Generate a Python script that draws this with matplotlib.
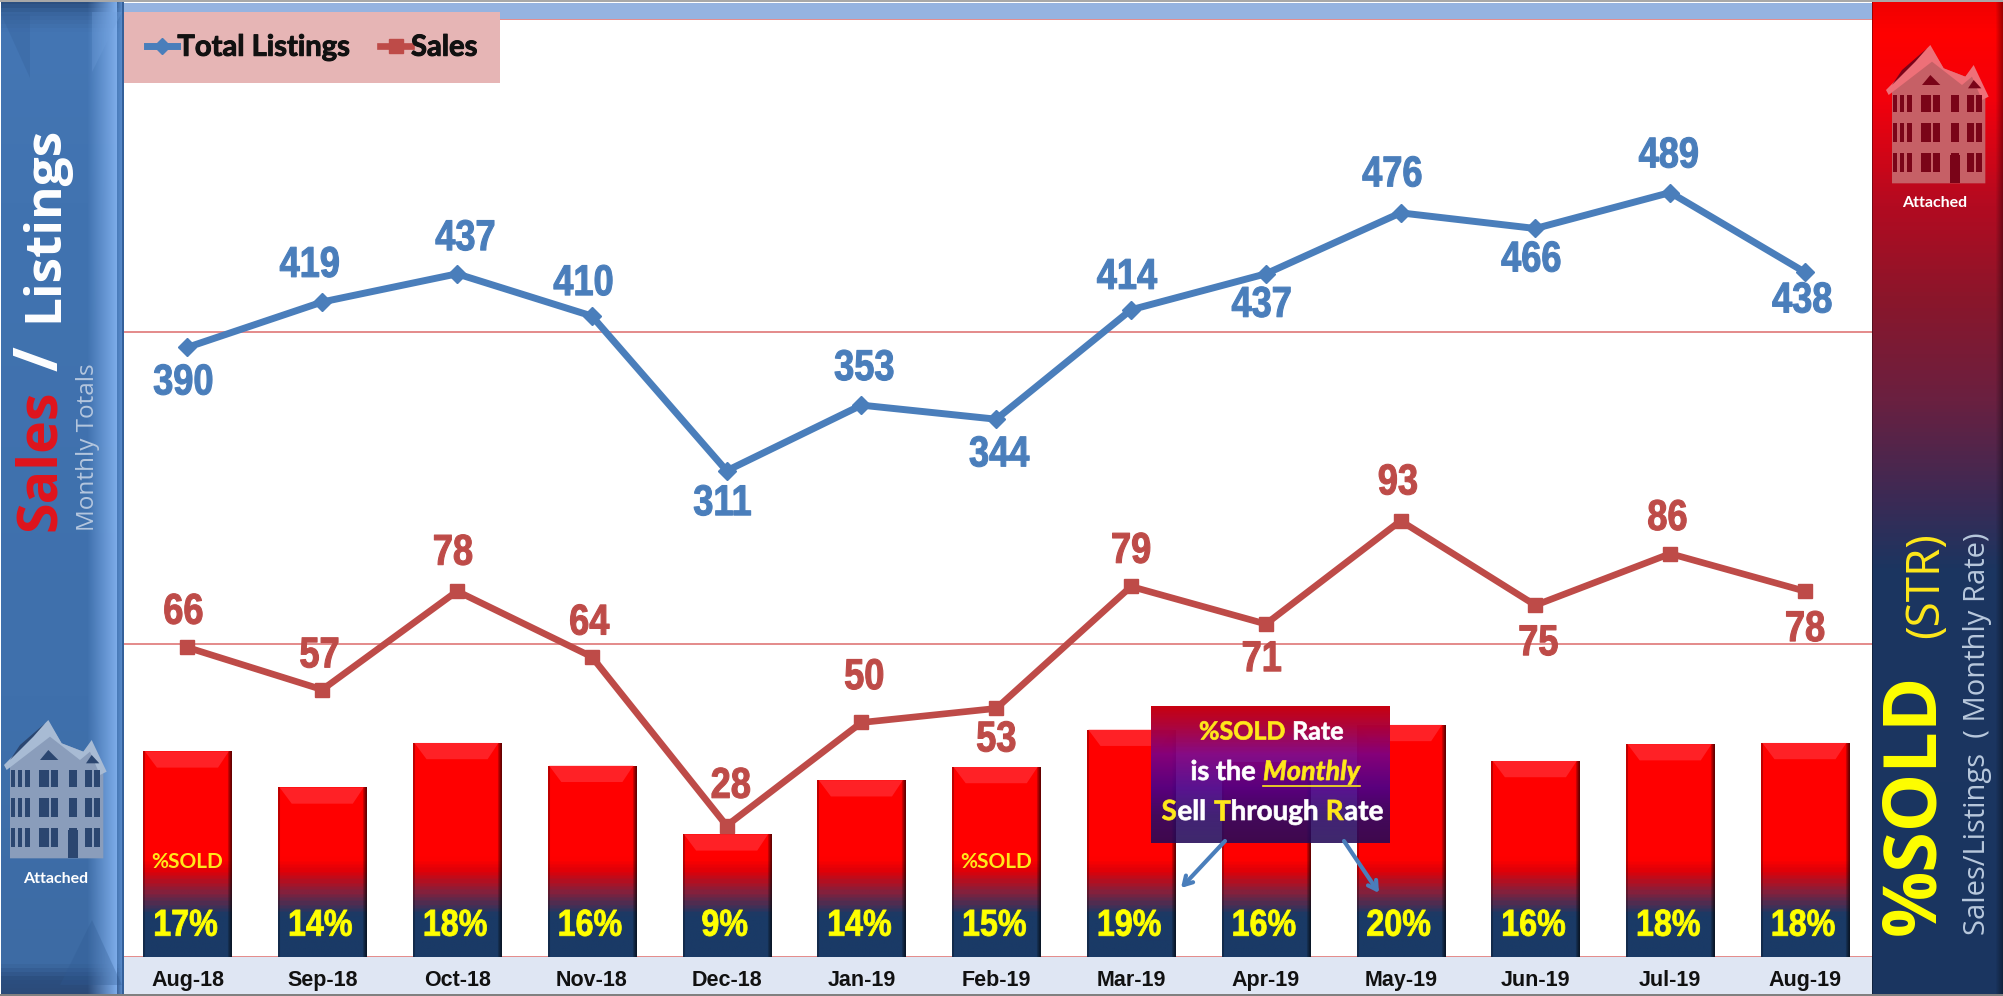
#!/usr/bin/env python3
"""Attached homes: monthly listings, sales and %SOLD rate, Aug-18 to Aug-19."""
import matplotlib

matplotlib.use("Agg")
import matplotlib.pyplot as plt
import matplotlib.patheffects as pe
import numpy as np
from matplotlib.colors import LinearSegmentedColormap, to_rgb
from matplotlib.patches import Polygon, Rectangle
from matplotlib.transforms import Affine2D

months = ["Aug-18", "Sep-18", "Oct-18", "Nov-18", "Dec-18", "Jan-19", "Feb-19",
          "Mar-19", "Apr-19", "May-19", "Jun-19", "Jul-19", "Aug-19"]
listings = [390, 419, 437, 410, 311, 353, 344, 414, 437, 476, 466, 489, 438]
sales = [66, 57, 78, 64, 28, 50, 53, 79, 71, 93, 75, 86, 78]
sold_rate = [17.1, 14.1, 17.8, 15.9, 10.2, 14.7, 15.8, 18.9, 16.2, 19.3, 16.3, 17.7, 17.8]
sold_labels = ["17%", "14%", "18%", "16%", "9%", "14%", "15%",
               "19%", "16%", "20%", "16%", "18%", "18%"]

# label placement in points, relative to the data point
listing_dx = [-3, -9, 6, -6, -3, 2, 2, -3, -3, -6, -3, -1, -2]
listing_dy = [-26, 26, 25, 23, -24, 26, -26, 23, -23, 27, -23, 26, -21]
sales_dx = [-3, -2, -3, -2, 3, 2, 0, 0, -3, -2, 2, -2, 0]
sales_dy = [25, 24, 27, 24, 28, 32, -23, 25, -26, 27, -28, 25, -28]

W, H = 2003, 996
BLUE, RED = "#4a7ebb", "#be4b48"
NAVY = "#1a3a66"
GRID = "#e48a8a"
HUMAN = ["Lato", "Open Sans"]
SIDE = ["Open Sans", "Lato"]

plt.rcParams["font.family"] = ["Liberation Sans", "DejaVu Sans"]


class Condense(pe.AbstractPathEffect):
    """Squeeze glyphs sideways; there is no narrow Arial to name here."""

    def __init__(self, sx, weight=0.0):
        super().__init__()
        self.sx = sx
        self.weight = weight

    def draw_path(self, renderer, gc, tpath, affine, rgbFace=None):
        ext = tpath.get_extents()
        cx = (ext.x0 + ext.x1) / 2
        squeeze = Affine2D().translate(-cx, 0).scale(self.sx, 1).translate(cx, 0)
        gc0 = renderer.new_gc()
        gc0.copy_properties(gc)
        gc0.set_linewidth(self.weight)
        gc0.set_foreground(rgbFace)
        renderer.draw_path(gc0, tpath, squeeze + affine, rgbFace)
        gc0.restore()


def ramp(stops):
    return LinearSegmentedColormap.from_list("r", [(p, to_rgb(c)) for p, c in stops])


def panel_image(ax, x0, x1, y0, y1, stops, edge):
    """Vertical colour ramp for a side panel, edge = [(x frac, colour, alpha), ...]."""
    n = int(y1 - y0)
    img = ramp(stops)(np.linspace(0, 1, n))[:, :3]
    img = np.repeat(img[:, None, :], int(x1 - x0), axis=1)
    for a, b, col, alpha0, alpha1 in edge:
        i0, i1 = int(a * img.shape[1]), int(b * img.shape[1])
        al = np.linspace(alpha0, alpha1, i1 - i0)[None, :, None]
        img[:, i0:i1] = img[:, i0:i1] * (1 - al) + np.array(to_rgb(col)) * al
    ax.imshow(img, extent=(x0, x1, y1, y0), aspect="auto", interpolation="bilinear", zorder=1)


def building(ax, ox, oy, body, dark, light):
    """Small attached-homes icon; coordinates are sketched on a 3x grid."""
    def p(x, y):
        return ox + x / 3, oy + y / 3

    ax.add_patch(Polygon([p(*q) for q in [(30, 255), (145, 125), (185, 190), (250, 215),
                                          (275, 185), (310, 275), (310, 535), (30, 535)]],
                         fc=body, ec="none", zorder=3))
    ax.add_patch(Polygon([p(*q) for q in [(12, 255), (145, 120), (185, 190), (250, 215),
                                          (275, 180), (320, 275), (300, 285), (270, 215),
                                          (240, 240), (150, 170), (20, 270)]],
                         fc=light, ec="none", zorder=4))
    ax.add_patch(Polygon([p(*q) for q in [(30, 240), (100, 170), (135, 130), (60, 195)]],
                         fc=dark, ec="none", zorder=4))
    ax.add_patch(Polygon([p(*q) for q in [(120, 240), (145, 210), (175, 240)]],
                         fc=dark, ec="none", zorder=4))
    ax.add_patch(Polygon([p(*q) for q in [(258, 250), (275, 225), (298, 250)]],
                         fc=dark, ec="none", zorder=4))
    for top, bot in [(270, 320), (355, 410), (445, 500)]:
        for a, b in [(33, 46), (53, 66), (75, 90), (118, 146), (154, 174), (208, 230),
                     (256, 276), (282, 300)]:
            x, y = p(a, top)
            ax.add_patch(Rectangle((x, y), (b - a) / 3, (bot - top) / 3, fc=dark, ec="none", zorder=4))
    x, y = p(205, 450)
    ax.add_patch(Rectangle((x, y), 10, 28, fc=dark, ec="none", zorder=4))


def inline(ax, cx, cy, parts, size):
    """One centred line made of differently styled runs; returns their extents."""
    rend = ax.figure.canvas.get_renderer()
    items = [ax.text(0, cy, s, color=c, fontsize=size, family=HUMAN, fontweight="bold",
                     style=st, ha="left", va="center", zorder=30,
                     path_effects=[Condense(1.0, 0.5)]) for s, c, st in parts]
    inv = ax.transData.inverted()
    widths = []
    for t in items:
        e = t.get_window_extent(rend)
        a, b = inv.transform((e.x0, 0))[0], inv.transform((e.x1, 0))[0]
        widths.append(b - a)
    x = cx - sum(widths) / 2
    spans = []
    for t, w in zip(items, widths):
        t.set_x(x)
        spans.append((x, x + w))
        x += w + 0.6
    return spans


def main():
    fig = plt.figure(figsize=(W / 100, H / 100), dpi=100, facecolor="white")

    # ---- chrome behind the plot, in pixel coordinates
    bg = fig.add_axes([0, 0, 1, 1], zorder=0)
    bg.set_xlim(0, W)
    bg.set_ylim(H, 0)
    bg.axis("off")
    bg.add_patch(Rectangle((124, 3), 1748, 16, fc="#95b3e0", ec="none", zorder=1))
    bg.add_patch(Rectangle((124, 957), 1748, 37, fc="#dfe6f3", ec="none", zorder=1))
    bg.add_patch(Rectangle((0, 0), W, 2, fc="#a8a8a8", ec="none", zorder=6))
    bg.add_patch(Rectangle((0, H - 2), W, 2, fc="#808080", ec="none", zorder=6))

    panel_image(bg, 1, 124, 0, H,
                [(0, "#2b4f80"), (0.012, "#3a669f"), (0.03, "#4476b4"), (0.2, "#4173b0"),
                 (0.7, "#3f70ac"), (0.97, "#3d6ba4"), (0.985, "#2c4f80"), (1, "#2b4a78")],
                [(0.70, 0.95, "#7cabe8", 0, 1), (0.95, 0.985, "#5a8ccc", 0.4, 0.9),
                 (0.985, 1, "#34609a", 1, 1)])
    panel_image(bg, 1872, W, 0, H,
                [(0, "#f00000"), (0.03, "#ff0000"), (0.10, "#f2000c"), (0.2, "#b50a20"),
                 (0.3, "#8a162b"), (0.4, "#6a2040"), (0.5, "#3c2a55"), (0.57, "#1c3560"),
                 (1, "#1a3560")],
                [(0, 0.02, "#000000", 0.35, 0), (0.94, 1, "#000000", 0, 0.35)])
    bg.add_patch(Polygon([(92, 920), (122, 985), (60, 985)], fc="#2f5a92", ec="none", alpha=0.3, zorder=2))
    bg.add_patch(Polygon([(122, 12), (92, 72), (92, 12)], fc="#6f9fdc", ec="none", alpha=0.3, zorder=2))
    bg.add_patch(Polygon([(1, 14), (30, 78), (30, 14)], fc="#335f98", ec="none", alpha=0.3, zorder=2))
    bg.set_xlim(0, W)
    bg.set_ylim(H, 0)

    # ---- the three scales share one plot rectangle
    rect = [124 / W, (H - 957) / H, 1748 / W, 938 / H]
    ax = fig.add_axes(rect, zorder=1, facecolor="white")
    x = np.arange(len(months))
    xlim = (-0.471, 12.497)

    ax.plot(x, listings, color=BLUE, lw=5, marker="D", ms=9.5, label="Total Listings",
            solid_joinstyle="miter", zorder=5)
    ax.set_ylim(0, 600)
    ax.set_xlim(*xlim)
    ax.set_yticks([0, 200, 400, 600])
    ax.set_yticklabels([])
    ax.set_xticks(x, months, fontsize=15.5, fontweight="bold", color="#111111")
    ax.tick_params(length=0, pad=9)
    ax.grid(axis="y", color=GRID, lw=1.4)
    ax.set_axisbelow(True)
    for s in ax.spines.values():
        s.set_visible(False)

    squeeze = [Condense(0.84, 0.8)]
    for i, v in enumerate(listings):
        ax.annotate(str(v), (i, v), xytext=(listing_dx[i], listing_dy[i]), textcoords="offset points",
                    ha="center", va="center", color=BLUE, fontsize=31, fontweight="bold",
                    path_effects=squeeze)

    # %SOLD bars
    bx = ax.twinx()
    bx.set_ylim(0, 78)
    bx.set_xlim(*xlim)
    bx.axis("off")
    bar_w = 0.653
    bars = bx.bar(x, sold_rate, width=bar_w, color="#ff0000", linewidth=0, zorder=2)
    stops = [(0, NAVY), (3.3 / 78, NAVY), (5.2 / 78, "#84203c"), (7 / 78, "#e00008"),
             (8.0 / 78, "#ff0000"), (1, "#ff0000")]
    grad = ramp(stops)(np.linspace(1, 0, 600))[:, :3]
    for i, (b, v) in enumerate(zip(bars, sold_rate)):
        img = np.repeat(grad[:, None, :], 88, axis=1)
        shade = np.ones(88)
        shade[:2] = 0.75
        shade[-4:] = [0.8, 0.65, 0.5, 0.4]
        im = bx.imshow(img * shade[None, :, None], extent=(i - bar_w / 2, i + bar_w / 2, 0, 78),
                       aspect="auto", zorder=3, interpolation="bilinear")
        im.set_clip_path(b)
        dx, dy = 0.1, 1.35
        bx.add_patch(Polygon([(i - bar_w / 2 + 0.01, v), (i + bar_w / 2 - 0.02, v),
                              (i + bar_w / 2 - dx, v - dy), (i - bar_w / 2 + dx, v - dy)],
                             fc="#ff2a30", ec="none", alpha=0.8, zorder=4))
        bx.text(i - 0.015, 2.6, sold_labels[i], ha="center", va="center", color="#ffff00",
                fontsize=27, fontweight="bold", path_effects=[Condense(0.86, 0.6)], zorder=6)
    bx.set_xlim(*xlim)
    bx.set_ylim(0, 78)
    for i in (0, 6):
        bx.text(i, 7.9, "%SOLD", ha="center", va="center", color="#ffe81a",
                fontsize=15, fontweight="bold", family=HUMAN, zorder=6)

    # sales, on top
    sx = ax.twinx()
    sx.set_ylim(0, 200)
    sx.set_xlim(*xlim)
    sx.axis("off")
    sx.plot(x, sales, color=RED, lw=4.8, marker="s", ms=10.5, label="Sales", zorder=5)
    for i, v in enumerate(sales):
        sx.annotate(str(v), (i, v), xytext=(sales_dx[i], sales_dy[i]), textcoords="offset points",
                    ha="center", va="center", color=RED, fontsize=31, fontweight="bold",
                    path_effects=squeeze)

    h1, l1 = ax.get_legend_handles_labels()
    h2, l2 = sx.get_legend_handles_labels()
    leg = sx.legend(h1 + h2, l1 + l2, ncol=2, loc="upper left", bbox_to_anchor=(124 / W, 1 - 12 / H),
                    bbox_transform=fig.transFigure, borderaxespad=0, fancybox=False, framealpha=1,
                    facecolor="#e6b5b5", edgecolor="none", handlelength=1.05, handletextpad=0.0,
                    columnspacing=1.05, borderpad=0.78, markerscale=0.9,
                    prop={"family": HUMAN, "weight": "bold", "size": 21})
    leg.set_zorder(20)
    for t in leg.get_texts():
        t.set_path_effects([pe.withStroke(linewidth=0.7, foreground="#111111")])
        t.set_color("#111111")

    # ---- overlay: side panel text, icons, callout
    top = fig.add_axes([0, 0, 1, 1], zorder=5)
    top.set_xlim(0, W)
    top.set_ylim(H, 0)
    top.axis("off")
    top.patch.set_alpha(0)

    def vtext(px, py, s, color, size, weight="bold", fam=SIDE):
        top.text(px, py, s, rotation=90, rotation_mode="anchor", ha="left", va="center",
                 color=color, fontsize=size, fontweight=weight, family=fam, zorder=10)

    vtext(44, 322, "Listings", "white", 37)
    vtext(42, 371, "/", "white", 43)
    vtext(40, 531, "Sales", "#e0141c", 40)
    vtext(88, 531, "Monthly Totals", "#b4c6de", 17.5, weight="normal")
    vtext(1915, 935, "%SOLD", "#ffff00", 53)
    vtext(1926, 638, "(STR)", "#ffe81a", 33, weight="normal")
    vtext(1978, 935, "Sales/Listings  ( Monthly Rate)", "#b8c8dc", 21, weight="normal")

    building(top, 0, 680, "#8a9dbb", "#2b4670", "#a8bbd4")
    building(top, 1780 + 102, 5, "#c66066", "#7a0418", "#ee7078")
    for px, py in [(56, 879), (1935, 203)]:
        top.text(px, py, "Attached", color="white", ha="center", va="center",
                 fontsize=11.5, fontweight="bold", family=HUMAN, zorder=10)

    # callout box, slightly see-through over the bars
    cmap = ramp([(0, "#c80010"), (0.12, "#b00030"), (0.35, "#800080"), (0.6, "#4c0088"),
                 (0.8, "#2e0a66"), (1, "#240a58")])
    img = cmap(np.linspace(0, 1, 137))
    img[:, 3] = np.linspace(1.0, 0.88, 137)
    top.imshow(img[:, None, :], extent=(1151, 1390, 843, 706), aspect="auto", zorder=8)
    top.set_xlim(0, W)
    top.set_ylim(H, 0)
    fig.canvas.draw()
    inline(top, 1271, 732, [("%SOLD", "#ffe81a", "normal"), (" Rate", "white", "normal")], 18)
    sp = inline(top, 1275, 772, [("is the ", "white", "normal"), ("Monthly", "#ffe81a", "italic")], 19.5)
    top.plot(sp[1], [786, 786], color="#ffe81a", lw=1.2, zorder=30)
    inline(top, 1271, 812, [("S", "#ffe81a", "normal"), ("ell ", "white", "normal"),
                            ("T", "#ffe81a", "normal"), ("hrough ", "white", "normal"),
                            ("R", "#ffe81a", "normal"), ("ate", "white", "normal")], 20)
    for a, b in [((1225, 841), (1181, 888)), ((1344, 841), (1379, 893))]:
        top.annotate("", xy=b, xytext=a, zorder=9,
                     arrowprops=dict(arrowstyle="->,head_length=0.6,head_width=0.35", color=BLUE,
                                     lw=3, shrinkA=0, shrinkB=0))

    fig.savefig("out.png", dpi=100, facecolor="white")
    plt.close(fig)


if __name__ == "__main__":
    main()
